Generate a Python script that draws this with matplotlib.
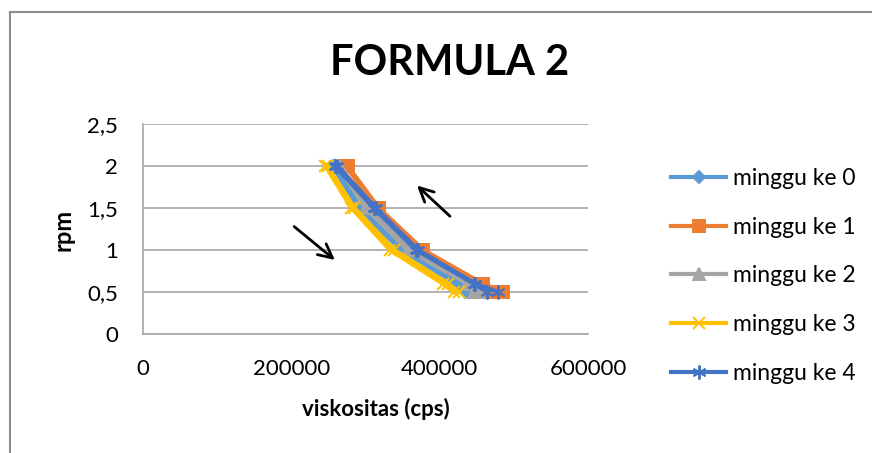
import matplotlib
matplotlib.use("Agg")
import matplotlib.pyplot as plt
from matplotlib.lines import Line2D
from matplotlib.ticker import FuncFormatter

plt.rcParams['font.family'] = ['Lato', 'DejaVu Sans']

# rpm going up then back down
rpm = [0.5, 0.6, 1, 1.5, 2, 2, 1.5, 1, 0.6, 0.5]

# viskositas (cps) per minggu
minggu_0 = [434000, 422000, 348000, 289000, 256000, 259000, 293000, 353000, 427000, 438000]
minggu_1 = [468000, 454000, 374000, 315000, 273000, 276000, 318000, 378000, 458000, 486000]
minggu_2 = [446000, 437000, 357000, 300000, 263000, 266000, 304000, 362000, 441000, 452000]
minggu_3 = [419000, 404000, 333000, 281000, 246000, 249000, 285000, 339000, 411000, 426000]
minggu_4 = [464000, 446000, 368000, 311000, 259000, 262000, 314000, 371000, 448000, 479000]

labels = ["minggu ke 0", "minggu ke 1", "minggu ke 2", "minggu ke 3", "minggu ke 4"]
series = [minggu_0, minggu_1, minggu_2, minggu_3, minggu_4]
colors = ["#5B9BD5", "#ED7D31", "#A5A5A5", "#FFC000", "#4472C4"]
markers = ["D", "s", "^", "x", (6, 2, 0)]
msizes = [6, 9, 9, 9, 10]

fig = plt.figure(figsize=(8.72, 4.53), dpi=100)
ax = fig.add_axes([143/872, 1-334/453, 445/872, 210/453])

for vals, lab, c, m, ms in zip(series, labels, colors, markers, msizes):
    ax.plot(vals, rpm, color=c, lw=3, marker=m, ms=ms, mew=1.4,
            mec=c, mfc=c, label=lab, solid_joinstyle='round')

ax.set_xlim(0, 600000)
ax.set_ylim(0, 2.5)
ax.set_xticks([0, 200000, 400000, 600000])
ax.set_yticks([0, 0.5, 1, 1.5, 2, 2.5])
ax.xaxis.set_major_formatter(FuncFormatter(lambda v, p: f"{int(v)}"))
ax.yaxis.set_major_formatter(FuncFormatter(lambda v, p: f"{v:g}".replace('.', ',')))
ax.tick_params(axis='both', length=0, labelsize=16)
ax.tick_params(axis='y', pad=18)
ax.tick_params(axis='x', pad=18)
ax.grid(axis='y', color='#A6A6A6', lw=1.2)
ax.set_axisbelow(True)
for s in ['top', 'right']:
    ax.spines[s].set_visible(False)
for s in ['left', 'bottom']:
    ax.spines[s].set_color('#A6A6A6')
    ax.spines[s].set_linewidth(1.2)

# arrows showing direction of measurement
ax.annotate("", xy=(261600, 0.86), xytext=(200900, 1.30),
            arrowprops=dict(arrowstyle='->', color='black', lw=2, mutation_scale=25))
ax.annotate("", xy=(366700, 1.79), xytext=(416600, 1.38),
            arrowprops=dict(arrowstyle='->', color='black', lw=2, mutation_scale=25))

fig.text(450/872, 1-63/453, "FORMULA 2", ha='center', va='center',
         fontsize=30, fontweight='bold')
fig.text(63/872, 1-230/453, "rpm", ha='center', va='center', rotation=90,
         fontsize=17, fontweight='bold')
fig.text(376/872, 1-409/453, "viskositas (cps)", ha='center', va='center',
         fontsize=16, fontweight='bold')

fig.legend(loc='center left', bbox_to_anchor=(660/872, 1-276/453), frameon=False,
           fontsize=16.5, handlelength=2.4, handletextpad=0.3, labelspacing=1.22,
           borderpad=0)

# outer chart border
fig.add_artist(Line2D([10/872, 10/872], [0, 1-12/453], transform=fig.transFigure,
                      color='#8C8C8C', lw=1.5))
fig.add_artist(Line2D([10/872, 1], [1-12/453, 1-12/453], transform=fig.transFigure,
                      color='#8C8C8C', lw=1.5))

fig.savefig("out.png", dpi=100, facecolor='white')
